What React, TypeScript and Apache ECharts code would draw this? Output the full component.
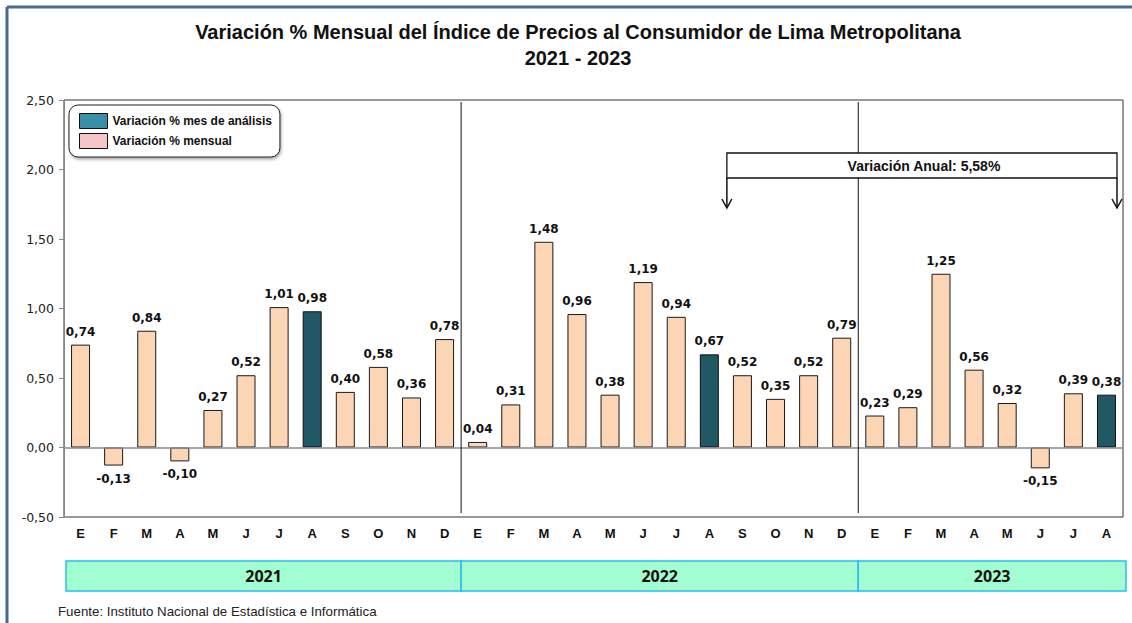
import React, { useEffect, useRef } from 'react';
import * as echarts from 'echarts';

const months = ['E', 'F', 'M', 'A', 'M', 'J', 'J', 'A', 'S', 'O', 'N', 'D'];
const years = ['2021', '2022', '2023'];
const values2021 = [0.74, -0.13, 0.84, -0.1, 0.27, 0.52, 1.01, 0.98, 0.4, 0.58, 0.36, 0.78];
const values2022 = [0.04, 0.31, 1.48, 0.96, 0.38, 1.19, 0.94, 0.67, 0.52, 0.35, 0.52, 0.79];
const values2023 = [0.23, 0.29, 1.25, 0.56, 0.32, -0.15, 0.39, 0.38];
const analysisMonthIndex = 7; // Agosto
const annualLabel = 'Variación Anual: 5,58%';
const titleText = 'Variación % Mensual del Índice de Precios al Consumidor de Lima Metropolitana';
const subtitleText = '2021 - 2023';
const sourceText = 'Fuente: Instituto Nacional de Estadística e Informática';
const seriesNameAnalysis = 'Variación % mes de análisis';
const seriesNameMonthly = 'Variación % mensual';
const yMin = -0.5;
const yMax = 2.5;
const yInterval = 0.5;

const W = 1132;
const H = 623;
const G = { left: 64, top: 100, right: 9, bottom: 106 };

const fmt = (v: number) => v.toFixed(2).replace('.', ',');

export default function App() {
  const ref = useRef<HTMLDivElement>(null);
  useEffect(() => {
    if (!ref.current) return;
    const chart = echarts.init(ref.current, undefined, { renderer: 'svg' });
    const yearValues = [values2021, values2022, values2023];
    const categories: string[] = [];
    const monthly: any[] = [];
    const analysis: any[] = [];
    yearValues.forEach((vals, yi) => {
      vals.forEach((v, mi) => {
        categories.push(years[yi] + '|' + months[mi]);
        const item = { value: v, label: { position: v < 0 ? 'bottom' : 'top' } };
        if (mi === analysisMonthIndex) {
          analysis.push(item);
          monthly.push(null);
        } else {
          monthly.push(item);
          analysis.push(null);
        }
      });
    });
    const n = categories.length;
    const gw = W - G.left - G.right;
    const gBottom = H - G.bottom;
    const cw = gw / n;
    const gx = (i: number) => G.left + i * cw;

    const graphics: any[] = [];
    // blue frame
    graphics.push({ type: 'line', shape: { x1: 7, y1: 7, x2: W, y2: 7 }, style: { stroke: '#46699c', lineWidth: 3 } });
    graphics.push({ type: 'line', shape: { x1: 7, y1: 7, x2: 7, y2: H }, style: { stroke: '#46699c', lineWidth: 3 } });
    // year separators + band
    let acc = 0;
    const bandTop = 561;
    const bandH = 30;
    yearValues.forEach((vals, yi) => {
      const start = acc;
      acc += vals.length;
      const x0 = yi === 0 ? G.left + 2 : gx(start);
      const x1 = yi === yearValues.length - 1 ? gx(acc) + 3 : gx(acc);
      if (yi < yearValues.length - 1) {
        graphics.push({
          type: 'line', z: 10,
          shape: { x1: gx(acc), y1: G.top + 2, x2: gx(acc), y2: gBottom - 4 },
          style: { stroke: '#111', lineWidth: 1 },
        });
      }
      graphics.push({
        type: 'rect',
        shape: { x: x0, y: bandTop, width: x1 - x0, height: bandH },
        style: { fill: '#a2fdd0', stroke: '#27bdf0', lineWidth: 1.5 },
      });
      graphics.push({
        type: 'text',
        x: (x0 + x1) / 2, y: bandTop + bandH / 2,
        style: {
          text: years[yi], fill: '#111', font: 'bold 16px "Open Sans"',
          align: 'center', verticalAlign: 'middle',
        },
      });
    });
    // annual annotation
    const aStart = n - 12;
    const bx0 = gx(aStart) + 1;
    const bx1 = gx(n) - 6;
    const by0 = 153;
    const by1 = 178;
    graphics.push({
      type: 'rect', z: 20,
      shape: { x: bx0, y: by0, width: bx1 - bx0, height: by1 - by0 },
      style: { fill: '#fff', stroke: '#111', lineWidth: 1.3 },
    });
    graphics.push({
      type: 'text', z: 21,
      x: (bx0 + bx1) / 2 + 2, y: (by0 + by1) / 2,
      style: { text: annualLabel, fill: '#111', font: 'bold 14px "Liberation Sans"', align: 'center', verticalAlign: 'middle' },
    });
    [bx0, bx1].forEach((ax) => {
      graphics.push({ type: 'line', z: 20, shape: { x1: ax, y1: by1, x2: ax, y2: 207 }, style: { stroke: '#111', lineWidth: 1.5 } });
      graphics.push({
        type: 'polyline', z: 20,
        shape: { points: [[ax - 5, 199], [ax, 208], [ax + 5, 199]] },
        style: { stroke: '#111', lineWidth: 1.5, fill: 'none' },
      });
    });
    // source
    graphics.push({
      type: 'text', x: 58, y: 611,
      style: { text: sourceText, fill: '#222', font: '13.3px "Liberation Sans"', verticalAlign: 'middle' },
    });

    const labelCommon = {
      show: true,
      distance: 7,
      formatter: (p: any) => fmt(p.value),
      fontFamily: 'DejaVu Sans',
      fontWeight: 'bold',
      fontSize: 12,
      color: '#111',
    };

    chart.setOption({
      animation: false,
      backgroundColor: '#fff',
      title: {
        text: titleText + '\n' + subtitleText,
        left: 573,
        top: 14,
        textAlign: 'center',
        textStyle: { fontFamily: 'Liberation Sans', fontWeight: 'bold', fontSize: 20, lineHeight: 26, color: '#111' },
      },
      legend: {
        orient: 'vertical',
        left: 69,
        top: 105,
        padding: [8, 8, 8, 10],
        itemGap: 4,
        itemWidth: 28,
        itemHeight: 15,
        icon: 'rect',
        selectedMode: false,
        backgroundColor: '#fff',
        borderColor: '#222',
        borderWidth: 1,
        borderRadius: 9,
        shadowBlur: 3,
        shadowColor: 'rgba(0,0,0,0.35)',
        shadowOffsetX: 1,
        shadowOffsetY: 2,
        textStyle: { fontFamily: 'Liberation Sans', fontWeight: 'bold', fontSize: 12, color: '#111' },
        data: [
          { name: seriesNameAnalysis, itemStyle: { color: '#3a8fa8', borderColor: '#111', borderWidth: 1 } },
          { name: seriesNameMonthly, itemStyle: { color: '#f4c6c6', borderColor: '#111', borderWidth: 1 } },
        ],
      },
      grid: { ...G, show: true, borderColor: '#333', borderWidth: 1, backgroundColor: 'transparent' },
      xAxis: {
        type: 'category',
        data: categories,
        axisLine: { show: false, onZero: false },
        axisTick: { show: false },
        axisLabel: {
          interval: 0,
          margin: 10,
          formatter: (v: string) => v.split('|')[1],
          fontFamily: 'Liberation Sans',
          fontWeight: 'bold',
          fontSize: 13,
          color: '#111',
        },
        splitLine: { show: false },
      },
      yAxis: {
        type: 'value',
        min: yMin,
        max: yMax,
        interval: yInterval,
        axisLine: { show: true, lineStyle: { color: '#888' } },
        axisTick: { show: true, length: 5, lineStyle: { color: '#888' } },
        axisLabel: {
          formatter: (v: number) => fmt(v),
          fontFamily: 'DejaVu Sans',
          fontSize: 12.5,
          color: '#222',
          margin: 10,
        },
        splitLine: { show: false },
      },
      series: [
        {
          name: seriesNameMonthly,
          type: 'bar',
          data: monthly,
          barWidth: 19,
          barGap: '-100%',
          itemStyle: { color: '#fcd5b4', borderColor: '#1a1a1a', borderWidth: 1 },
          label: labelCommon,
          markLine: {
            silent: true,
            symbol: 'none',
            label: { show: false },
            lineStyle: { color: '#8a8a8a', type: 'solid', width: 1.5 },
            data: [{ yAxis: 0 }],
          },
          z: 3,
        },
        {
          name: seriesNameAnalysis,
          type: 'bar',
          data: analysis,
          barWidth: 19,
          barGap: '-100%',
          itemStyle: { color: '#215866', borderColor: '#111', borderWidth: 1 },
          label: labelCommon,
          z: 3,
        },
      ],
      graphic: graphics,
    });
    return () => chart.dispose();
  }, []);
  return <div ref={ref} style={{ position: 'fixed', left: 0, top: 0, width: W, height: H }} />;
}
